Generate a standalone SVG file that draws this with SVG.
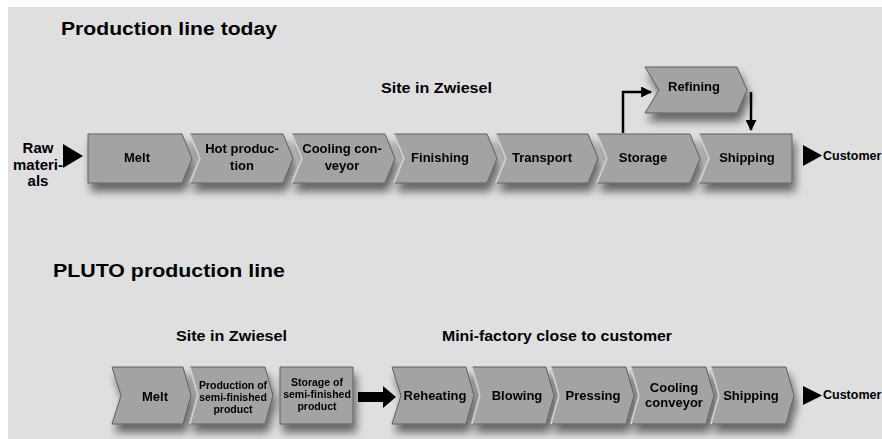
<svg xmlns="http://www.w3.org/2000/svg" width="882" height="439" viewBox="0 0 882 439">
<defs>
<style>
text{font-family:"Liberation Sans",Arial,sans-serif;font-weight:bold;fill:#000}
.title{font-size:18px}
.head{font-size:15px}
.lbl{font-size:13px;text-anchor:middle}
.sm{font-size:10.5px;text-anchor:middle}
.cust{font-size:12.5px}
.chev{fill:#a3a3a3;stroke:#5e5e5e;stroke-width:1}
.hl{fill:none;stroke:#d4d4d4;stroke-width:1.5}
.line{fill:none;stroke:#000;stroke-width:2.5}
</style>
<filter id="sh" x="-10%" y="-30%" width="125%" height="190%">
<feGaussianBlur in="SourceAlpha" stdDeviation="4"/>
<feOffset dx="3" dy="8" result="b"/>
<feComponentTransfer><feFuncA type="linear" slope="0.55"/></feComponentTransfer>
<feMerge><feMergeNode/><feMergeNode in="SourceGraphic"/></feMerge>
</filter>
<marker id="ah" viewBox="0 0 10 10" refX="9" refY="5" markerWidth="5" markerHeight="4.4" orient="auto" markerUnits="strokeWidth">
<path d="M0,0 L10,5 L0,10 Z" fill="#000"/>
</marker>
</defs>
<rect x="0" y="0" width="882" height="439" fill="#fff"/>
<rect x="8" y="7" width="874" height="432" fill="#dfdfdf"/>

<text class="title" x="61" y="35" textLength="216" lengthAdjust="spacingAndGlyphs">Production line today</text>
<text class="head" x="381" y="93" textLength="111" lengthAdjust="spacingAndGlyphs">Site in Zwiesel</text>
<text class="title" x="53" y="277" textLength="232" lengthAdjust="spacingAndGlyphs">PLUTO production line</text>
<text class="head" x="176" y="341" textLength="111" lengthAdjust="spacingAndGlyphs">Site in Zwiesel</text>
<text class="head" x="442" y="341" textLength="230" lengthAdjust="spacingAndGlyphs">Mini-factory close to customer</text>

<g id="raw-materials">
<text class="head" text-anchor="middle" x="38" y="153">Raw</text>
<text class="head" text-anchor="middle" x="38" y="170">materi-</text>
<text class="head" text-anchor="middle" x="38" y="186">als</text>
</g>

<g filter="url(#sh)">
<g id="melt-1"><polygon class="chev" points="88,134 182,134 192,158.5 182,183 88,183"/><text class="lbl" x="137" y="162">Melt</text></g>
<g id="hot-production"><polygon class="chev" points="190,134 283,134 293,158.5 283,183 190,183 200,158.5"/><polyline class="hl" points="190,134 200,158.5 190,183"/><text class="lbl" x="242" y="153">Hot produc-</text><text class="lbl" x="242" y="170">tion</text></g>
<g id="cooling-conveyor-1"><polygon class="chev" points="292,134 385,134 395,158.5 385,183 292,183 302,158.5"/><polyline class="hl" points="292,134 302,158.5 292,183"/><text class="lbl" x="342" y="153">Cooling con-</text><text class="lbl" x="342" y="170">veyor</text></g>
<g id="finishing"><polygon class="chev" points="394,134 487,134 497,158.5 487,183 394,183 404,158.5"/><polyline class="hl" points="394,134 404,158.5 394,183"/><text class="lbl" x="440" y="162">Finishing</text></g>
<g id="transport"><polygon class="chev" points="496,134 588,134 598,158.5 588,183 496,183 506,158.5"/><polyline class="hl" points="496,134 506,158.5 496,183"/><text class="lbl" x="542" y="162">Transport</text></g>
<g id="storage"><polygon class="chev" points="597,134 690,134 700,158.5 690,183 597,183 607,158.5"/><polyline class="hl" points="597,134 607,158.5 597,183"/><text class="lbl" x="643" y="162">Storage</text></g>
<g id="shipping-1"><polygon class="chev" points="699,134 792,134 792,183 699,183 709,158.5"/><polyline class="hl" points="699,134 709,158.5 699,183"/><text class="lbl" x="747" y="162">Shipping</text></g>
<g id="refining"><polygon class="chev" points="645,67 737,67 747,90 737,113 645,113 659,90"/><text class="lbl" x="694" y="91">Refining</text></g>
</g>

<g filter="url(#sh)">
<g id="melt-2"><polygon class="chev" points="112,367 183,367 191,395.5 183,424 112,424 121,395.5"/><text class="lbl" x="155" y="401">Melt</text></g>
<g id="production-semi"><polygon class="chev" points="190,367 265,367 273,395.5 265,424 190,424 198,395.5"/><polyline class="hl" points="190,367 198,395.5 190,424"/><text class="sm" x="233" y="389">Production of</text><text class="sm" x="233" y="401">semi-finished</text><text class="sm" x="233" y="413">product</text></g>
<g id="storage-semi"><polygon class="chev" points="280,367 353,367 353,424 280,424"/><text class="sm" x="317" y="386">Storage of</text><text class="sm" x="317" y="398">semi-finished</text><text class="sm" x="317" y="410">product</text></g>
<g id="reheating"><polygon class="chev" points="392,367 466,367 474,395.5 466,424 392,424 401,395.5"/><text class="lbl" x="435" y="400">Reheating</text></g>
<g id="blowing"><polygon class="chev" points="472,367 546,367 554,395.5 546,424 472,424 480,395.5"/><polyline class="hl" points="472,367 480,395.5 472,424"/><text class="lbl" x="517" y="400">Blowing</text></g>
<g id="pressing"><polygon class="chev" points="551,367 626,367 634,395.5 626,424 551,424 559,395.5"/><polyline class="hl" points="551,367 559,395.5 551,424"/><text class="lbl" x="593" y="400">Pressing</text></g>
<g id="cooling-conveyor-2"><polygon class="chev" points="631,367 706,367 714,395.5 706,424 631,424 639,395.5"/><polyline class="hl" points="631,367 639,395.5 631,424"/><text class="lbl" x="674" y="392">Cooling</text><text class="lbl" x="674" y="407">conveyor</text></g>
<g id="shipping-2"><polygon class="chev" points="711,367 786,367 794,395.5 786,424 711,424 719,395.5"/><polyline class="hl" points="711,367 719,395.5 711,424"/><text class="lbl" x="751" y="400">Shipping</text></g>
</g>

<g id="customer-1"><text class="cust" x="823" y="160">Customer</text></g>
<g id="customer-2"><text class="cust" x="823" y="399">Customer</text></g>

<g id="connectors">
<polygon points="63,144 83,156 63,168" fill="#000"/>
<polygon points="803,145 822,155.5 803,166" fill="#000"/>
<path class="line" d="M623,133 V92 H651" stroke-width="2.5" marker-end="url(#ah)"/>
<path class="line" d="M751,92 V130" stroke-width="2.5" marker-end="url(#ah)"/>
<polygon points="358,392 383,392 383,386 396,397 383,408 383,402 358,402" fill="#000"/>
<polygon points="803,386 822,395.5 803,405" fill="#000"/>
</g>
</svg>
